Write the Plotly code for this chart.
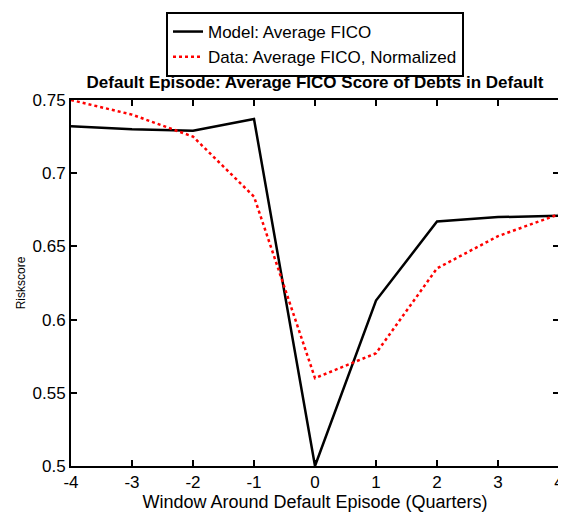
import plotly.graph_objects as go

quarters = [-4, -3, -2, -1, 0, 1, 2, 3, 4]
model_fico = [0.732, 0.730, 0.729, 0.737, 0.500, 0.613, 0.667, 0.670, 0.671]
data_fico = [0.750, 0.740, 0.725, 0.684, 0.560, 0.577, 0.635, 0.657, 0.672]
y_ticks = [0.5, 0.55, 0.6, 0.65, 0.7, 0.75]
y_ticktext = ["0.5", "0.55", "0.6", "0.65", "0.7", "0.75"]

font_family = "Liberation Sans"

W, H = 566, 512
M = dict(l=63, r=15, t=92, b=54)   # page body adds an 8px offset

fig = go.Figure()
fig.add_trace(go.Scatter(x=quarters, y=model_fico, mode="lines",
                         name="Model: Average FICO",
                         line=dict(color="black", width=2.5)))
fig.add_trace(go.Scatter(x=quarters, y=data_fico, mode="lines",
                         name="Data: Average FICO, Normalized",
                         line=dict(color="red", width=2.5, dash="dot")))

axis_common = dict(showline=True, linecolor="#000000", linewidth=2, mirror="allticks",
                   ticks="inside", ticklen=6, tickwidth=2, tickcolor="#000000",
                   showgrid=False, zeroline=False, automargin=False,
                   tickfont=dict(family=font_family, size=17, color="black"))

fig.update_layout(
    template="none",
    width=W, height=H,
    margin=M,
    paper_bgcolor="white", plot_bgcolor="white",
    font=dict(family=font_family, color="black"),
    title=dict(text="<b>Default Episode: Average FICO Score of Debts in Default</b>",
               x=0.5, xref="paper", xanchor="center",
               y=1 - 74 / H, yref="container", yanchor="middle",
               font=dict(size=17, family=font_family, color="black")),
    legend=dict(x=0.5, xanchor="center", y=1 - 4 / H, yref="container", yanchor="top",
                bordercolor="black", borderwidth=2, bgcolor="white",
                font=dict(size=17, family=font_family, color="black"),
                tracegroupgap=0),
    xaxis=dict(range=[min(quarters), max(quarters)], tickvals=quarters,
               ticktext=[str(q) for q in quarters],
               title=dict(text="Window Around Default Episode (Quarters)",
                          font=dict(size=18, family=font_family), standoff=0),
               **axis_common),
    yaxis=dict(range=[min(y_ticks), max(y_ticks)], tickvals=y_ticks, ticktext=y_ticktext,
               title=dict(text="Riskscore", font=dict(size=12, family=font_family), standoff=4),
               **axis_common),
)

fig.write_html("out.html")
